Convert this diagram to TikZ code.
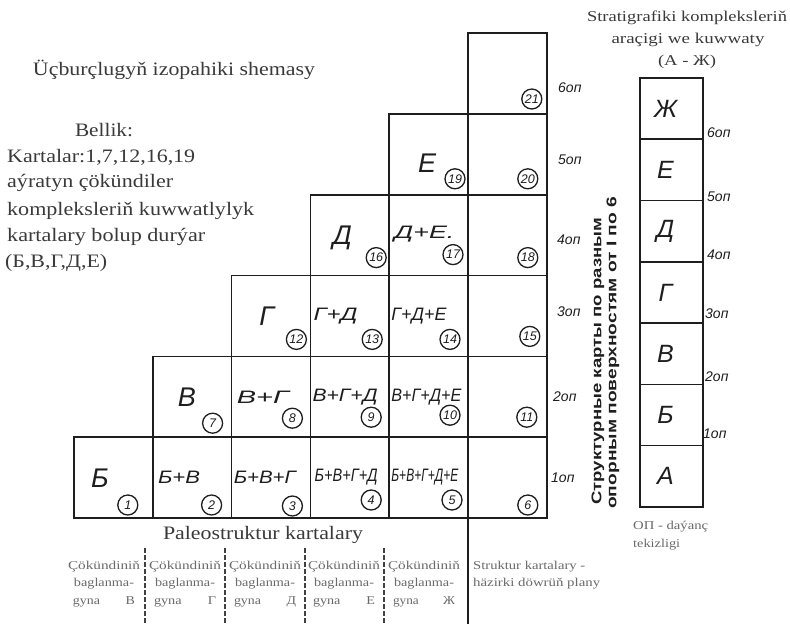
\documentclass[tikz,border=0pt]{standalone}
\usepackage{fontspec}
\usepackage{graphicx}
\setmainfont{Liberation Serif}
\newfontfamily\handf{Liberation Sans}
\newcommand{\fw}[2]{\resizebox{#1}{\height}{#2}}
\definecolor{ink}{HTML}{1E1E1E}
\definecolor{txt}{HTML}{3A3A3A}
\definecolor{lite}{HTML}{6A6A6A}
\begin{document}
\begin{tikzpicture}[x=1pt,y=-1pt,
  cell/.style={draw=ink, line width=1.5pt, minimum width=78.8pt, minimum height=80.8pt, inner sep=0pt, outer sep=0pt, anchor=south west},
  scell/.style={draw=ink, line width=1.5pt, minimum width=63pt, minimum height=61.3pt, inner sep=0pt, outer sep=0pt, anchor=south west},
  big/.style={inner sep=0pt, text=ink, font=\handf\itshape\fontsize{27}{27}\selectfont},
  colbig/.style={inner sep=0pt, text=ink, font=\handf\itshape\fontsize{25}{25}\selectfont},
  combo/.style={inner sep=0pt, anchor=west, text=ink, font=\handf\itshape\fontsize{18}{18}\selectfont},
  num/.style={circle, draw=ink, line width=1.3pt, minimum size=20pt, inner sep=0pt, text=ink, font=\handf\itshape\fontsize{12.5}{12.5}\selectfont},
  op/.style={inner sep=0pt, anchor=west, text=ink, font=\handf\itshape\fontsize{14}{14}\selectfont},
  vt/.style={inner sep=0pt, rotate=90, anchor=west, text=ink, font=\handf\bfseries\fontsize{14}{14}\selectfont},
  typed/.style={inner sep=0pt, text=txt, font=\fontsize{19}{19}\selectfont},
  typedsm/.style={inner sep=0pt, text=txt, font=\fontsize{15}{15}\selectfont},
  capt/.style={inner sep=0pt, text=lite, font=\fontsize{12}{12}\selectfont},
  sep/.style={draw=ink, line width=1.3pt},
  dsep/.style={draw=ink!85, line width=1.4pt, dash pattern=on 5pt off 2pt},
]
\fill[white] (0,0) rectangle (790,624);
\useasboundingbox (0,0) rectangle (790,624);

% ---------- staircase grid ----------
\foreach \r in {1,...,6}{
  \foreach \c in {\r,...,6}{
    \node[cell] (c\r-\c) at ({74+(\c-1)*78.8},{518-(\r-1)*80.8}) {};
  }
}
% circled numbers
\foreach \n/\r/\c/\dx/\dy in {1/1/1/-25/-13, 2/1/2/-20/-13, 3/1/3/-18/-12, 4/1/4/-18/-18, 5/1/5/-16/-18, 6/1/6/-19/-13,
  7/2/2/-19/-14, 8/2/3/-18/-19, 9/2/4/-18/-20, 10/2/5/-18/-22, 11/2/6/-20/-20,
  12/3/3/-14/-17, 13/3/4/-17/-17, 14/3/5/-18/-17, 15/3/6/-17/-20,
  16/4/4/-13/-18, 17/4/5/-15/-21, 18/4/6/-19/-18,
  19/5/5/-13/-16, 20/5/6/-19/-16, 21/6/6/-15/-15}{
  \node[num] (n\n) at ([shift={(\dx,\dy)}]c\r-\c.south east) {\n};
}
% single complexes
\foreach \r/\c/\dx/\dy/\t in {1/1/26/-40/Б, 2/2/34/-40/В, 3/3/35/-40/Г, 4/4/32/-38/Д, 5/5/38/-32/Е}{
  \node[big] (s\r-\c) at ([shift={(\dx,\dy)}]c\r-\c.south west) {\t};
}
% combined complexes
\foreach \r/\c/\dx/\dy/\w/\t in {1/2/5/-41/42/Б+В, 1/3/2/-41/62/Б+В+Г, 1/4/4/-41/63/Б+В+Г+Д, 1/5/2/-41/67/Б+В+Г+Д+Е,
  2/3/5/-40/52/В+Г, 2/4/2/-40/65/В+Г+Д, 2/5/2/-40/70/В+Г+Д+Е,
  3/4/3/-40/44/Г+Д, 3/5/2/-40/55/Г+Д+Е,
  4/5/5/-42/60/Д+Е.}{
  \node[combo] (k\r-\c) at ([shift={(\dx,\dy)}]c\r-\c.south west) {\fw{\w pt}{\t}};
}
% reference-surface labels of the grid
\foreach \t/\x/\y in {6/558/88, 5/558/160, 4/557/240, 3/557/312, 2/553/397, 1/551/478}{
  \node[op] (g\t) at (\x,\y) {\t оп};
}

% ---------- stratigraphic column ----------
\foreach \k/\t in {1/А, 2/Б, 3/В, 4/Г, 5/Д, 6/Е, 7/Ж}{
  \node[scell] (r\k) at (640,{507-(\k-1)*61.3}) {};
  \node[colbig] (rl\k) at ([xshift=-6pt]r\k.center) {\t};
}
\foreach \t/\x/\y in {6/707/133, 5/707/197, 4/707/255, 3/705/314, 2/705/377, 1/703/434}{
  \node[op] (h\t) at (\x,\y) {\t оп};
}
\node[typedsm] (tr1) at (687,18) {\fw{200pt}{Stratigrafiki kompleksleriň}};
\node[typedsm] (tr2) at (688,40) {\fw{153pt}{araçigi we kuwwaty}};
\node[typedsm] (tr3) at (687,62) {\fw{58pt}{(А - Ж)}};
\node[capt, anchor=west] (op1) at (633,527) {\fw{75pt}{ОП - daýanç}};
\node[capt, anchor=west] (op2) at (633,545) {\fw{47pt}{tekizligi}};

% ---------- vertical Russian caption ----------
\node[vt] (vt1) at (598,505) {\fw{287pt}{Структурные карты по разным}};
\node[vt] (vt2) at (613,509) {\fw{312pt}{опорным поверхностям от I по 6}};

% ---------- left texts ----------
\node[typed] (title) at (174,70) {\fw{282pt}{Üçburçlugyň izopahiki shemasy}};
\node[typed] (bel) at (104,130) {\fw{58pt}{Bellik:}};
\node[typed, anchor=west] (b1) at (7,157) {\fw{188pt}{Kartalar:1,7,12,16,19}};
\node[typed, anchor=west] (b2) at (7,183) {\fw{166pt}{aýratyn çökündiler}};
\node[typed, anchor=west] (b3) at (7,211) {\fw{247pt}{kompleksleriň kuwwatlylyk}};
\node[typed, anchor=west] (b4) at (7,237) {\fw{198pt}{kartalary bolup durýar}};
\node[typed, anchor=west] (b5) at (5,263) {\fw{102pt}{(Б,В,Г,Д,Е)}};

% ---------- bottom ----------
\node[typed] (paleo) at (263,535) {\fw{200pt}{Paleostruktur kartalary}};
\coordinate (vb) at (468,624);
\draw[sep] (c1-5.south east) -- (vb);
\foreach \i/\x in {1/145, 2/225, 3/305, 4/384}{
  \coordinate (dt\i) at (\x,548);
  \coordinate (db\i) at (\x,624);
  \draw[dsep] (dt\i) -- (db\i);
}
\foreach \i/\x/\l in {1/104/В, 2/185/Г, 3/265/Д, 4/344/Е, 5/424/Ж}{
  \node[capt] (ca\i) at (\x,567) {\fw{72pt}{Çökündiniň}};
  \node[capt] (cb\i) at (\x,584) {\fw{60pt}{baglanma-}};
  \node[capt] (cc\i) at (\x,602) {\fw{62pt}{gyna\hspace{22pt}\l}};
}
\node[capt, anchor=west] (st1) at (473,567) {\fw{112pt}{Struktur kartalary -}};
\node[capt, anchor=west] (st2) at (473,584) {\fw{127pt}{häzirki döwrüň plany}};
\end{tikzpicture}
\end{document}
